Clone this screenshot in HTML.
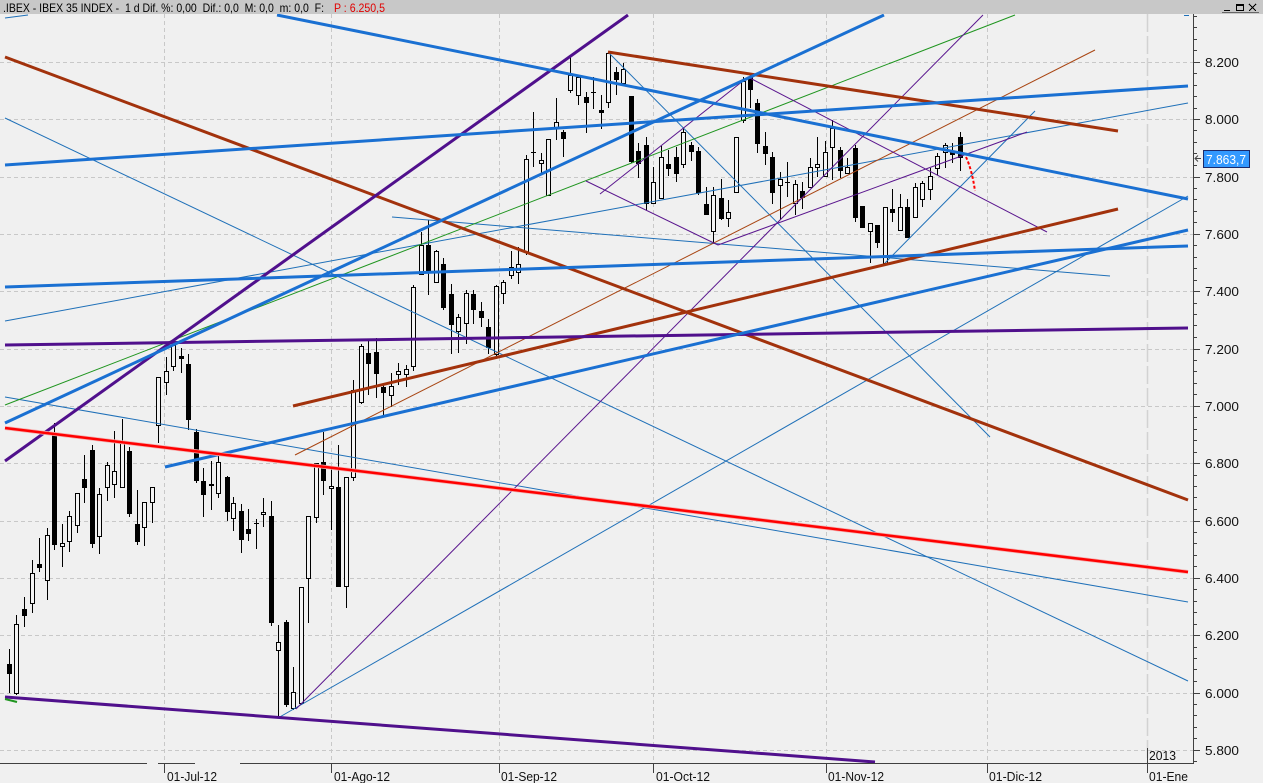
<!DOCTYPE html>
<html><head><meta charset="utf-8"><style>
html,body{margin:0;padding:0;background:#f0f0f0;}
svg{display:block;}
text{font-family:"Liberation Sans",Arial,sans-serif;}
</style></head><body>
<svg width="1263" height="783" viewBox="0 0 1263 783" xmlns="http://www.w3.org/2000/svg">
<rect x="0" y="0" width="1263" height="783" fill="#f0f0f0"/>
<!-- grid -->
<g stroke="#c8c8c8" stroke-width="1" stroke-dasharray="4 3" shape-rendering="crispEdges">
<path d="M0 62.5H1193M0 119.5H1193M0 177.5H1193M0 234.5H1193M0 291.5H1193M0 349.5H1193M0 406.5H1193M0 463.5H1193M0 521.5H1193M0 578.5H1193M0 635.5H1193M0 693.5H1193M0 750.5H1193"/>
<path d="M164.5 14V763M331.5 14V763M499.5 14V763M653.5 14V763M826.5 14V763M987.5 14V763"/>
</g>
<path d="M1147.5 14V763" stroke="#d2d2d2" stroke-width="1.5" stroke-dasharray="18 4" fill="none"/>
<!-- candles -->
<g shape-rendering="crispEdges" stroke="#000" stroke-width="1">
<path fill="none" d="M9.5 649V693M16.5 615V695M24.5 597V627M32.5 560V613M39.5 538V572M47.5 528V600M54.5 423V550M62.5 524V567M69.5 511V552M77.5 493V533M84.5 455V503M92.5 445V548M99.5 488V554M107.5 462V501M114.5 431V498M122.5 419V487M129.5 447V517M137.5 490V545M144.5 502V546M152.5 487V523M158.5 377V443M166.5 357V395M173.5 342V371M181.5 348V373M188.5 354V430M196.5 429V483M203.5 468V517M211.5 461V510M218.5 453V498M227.5 476V521M233.5 497V531M241.5 504V553M248.5 509V541M256.5 519V549M263.5 498V527M271.5 501V626M278.5 625V718M286.5 620V707M293.5 667V710M301.5 587V705M308.5 516V623M316.5 463V523M323.5 432V495M331.5 468V530M338.5 445V587M346.5 477V608M353.5 380V481M361.5 344V404M368.5 340V395M376.5 338V398M383.5 383V417M391.5 373V407M398.5 363V385M406.5 365V387M413.5 285V371M421.5 232V275M428.5 220V295M436.5 250V282M443.5 258V310M451.5 284V354M458.5 314V353M466.5 290V344M473.5 290V324M481.5 302V327M488.5 319V354M496.5 285V358M503.5 280V304M511.5 251V279M518.5 247V284M526.5 155V255M533.5 112V167M541.5 153V173M548.5 139V196M556.5 98V140M563.5 130V157M570.5 57V93M578.5 77V105M586.5 92V133M593.5 77V109M601.5 95V129M608.5 53V108M616.5 67V95M623.5 63V83M631.5 96V163M638.5 143V178M646.5 137V210M653.5 167V203M661.5 146V198M668.5 150V176M676.5 147V182M683.5 128V168M691.5 142V161M698.5 147V195M706.5 187V215M713.5 187V243M721.5 179V220M728.5 200V227M736.5 137V192M743.5 77V123M750.5 75V108M757.5 99V153M765.5 132V165M772.5 152V204M780.5 172V220M787.5 162V197M795.5 180V215M802.5 182V209M810.5 158V188M817.5 137V177M825.5 141V177M832.5 120V180M840.5 147V178M847.5 158V174M855.5 145V222M862.5 206V227M870.5 223V263M877.5 225V248M885.5 207V263M892.5 189V222M900.5 194V230M907.5 199V237M915.5 183V217M922.5 181V207M930.5 168V200M937.5 153V175M945.5 143V168M952.5 143V163M960.5 132V171"/>
<path fill="#000" d="M7.5 664.5h4v9h-4zM22.5 609.5h4v6h-4zM37.5 564.5h4v3h-4zM52.5 433.5h4v111h-4zM82.5 479.5h4v8h-4zM90.5 450.5h4v93h-4zM127.5 451.5h4v62h-4zM135.5 524.5h4v17h-4zM179.5 356.5h4v2h-4zM186.5 364.5h4v55h-4zM194.5 432.5h4v48h-4zM201.5 481.5h4v13h-4zM209.5 484.5h4v1h-4zM225.5 477.5h4v34h-4zM239.5 511.5h4v28h-4zM246.5 529.5h4v4h-4zM269.5 516.5h4v106h-4zM284.5 622.5h4v82h-4zM321.5 462.5h4v18h-4zM336.5 487.5h4v99h-4zM366.5 353.5h4v10h-4zM374.5 352.5h4v21h-4zM381.5 387.5h4v5h-4zM426.5 245.5h4v25h-4zM441.5 264.5h4v43h-4zM449.5 294.5h4v30h-4zM471.5 294.5h4v15h-4zM479.5 311.5h4v6h-4zM486.5 327.5h4v20h-4zM561.5 132.5h4v6h-4zM584.5 97.5h4v5h-4zM599.5 110.5h4v2h-4zM614.5 72.5h4v7h-4zM629.5 96.5h4v65h-4zM636.5 151.5h4v12h-4zM644.5 145.5h4v58h-4zM666.5 164.5h4v4h-4zM674.5 157.5h4v16h-4zM689.5 145.5h4v6h-4zM696.5 151.5h4v41h-4zM704.5 204.5h4v10h-4zM719.5 198.5h4v20h-4zM748.5 77.5h4v12h-4zM755.5 103.5h4v40h-4zM763.5 146.5h4v7h-4zM770.5 157.5h4v35h-4zM800.5 191.5h4v6h-4zM838.5 150.5h4v20h-4zM853.5 148.5h4v69h-4zM860.5 206.5h4v21h-4zM875.5 225.5h4v17h-4zM890.5 209.5h4v3h-4zM905.5 207.5h4v30h-4zM950.5 152.5h4v2h-4zM958.5 137.5h4v20h-4z"/>
<path fill="#f4f4f4" d="M14.5 624.5h4v69h-4zM30.5 573.5h4v30h-4zM45.5 535.5h4v45h-4zM60.5 543.5h4v3h-4zM67.5 516.5h4v25h-4zM75.5 493.5h4v32h-4zM97.5 494.5h4v42h-4zM105.5 465.5h4v22h-4zM112.5 471.5h4v13h-4zM120.5 442.5h4v45h-4zM142.5 502.5h4v25h-4zM150.5 487.5h4v15h-4zM156.5 377.5h4v48h-4zM164.5 371.5h4v11h-4zM171.5 345.5h4v21h-4zM216.5 462.5h4v31h-4zM231.5 503.5h4v15h-4zM261.5 512.5h4v2h-4zM276.5 642.5h4v8h-4zM291.5 692.5h4v16h-4zM299.5 587.5h4v116h-4zM306.5 516.5h4v62h-4zM314.5 463.5h4v54h-4zM329.5 486.5h4v2h-4zM344.5 477.5h4v109h-4zM351.5 390.5h4v87h-4zM359.5 346.5h4v56h-4zM389.5 386.5h4v9h-4zM396.5 371.5h4v3h-4zM404.5 369.5h4v5h-4zM411.5 287.5h4v79h-4zM419.5 245.5h4v29h-4zM434.5 251.5h4v31h-4zM456.5 317.5h4v14h-4zM464.5 293.5h4v30h-4zM494.5 286.5h4v68h-4zM501.5 282.5h4v11h-4zM509.5 267.5h4v8h-4zM516.5 264.5h4v8h-4zM524.5 159.5h4v93h-4zM539.5 160.5h4v3h-4zM546.5 139.5h4v56h-4zM554.5 122.5h4v5h-4zM568.5 75.5h4v15h-4zM576.5 77.5h4v18h-4zM606.5 53.5h4v49h-4zM621.5 69.5h4v14h-4zM651.5 182.5h4v21h-4zM659.5 157.5h4v41h-4zM681.5 132.5h4v32h-4zM711.5 195.5h4v36h-4zM726.5 212.5h4v6h-4zM734.5 137.5h4v55h-4zM741.5 81.5h4v39h-4zM778.5 179.5h4v6h-4zM793.5 184.5h4v19h-4zM808.5 167.5h4v20h-4zM815.5 164.5h4v3h-4zM823.5 152.5h4v24h-4zM830.5 128.5h4v19h-4zM845.5 167.5h4v6h-4zM868.5 223.5h4v8h-4zM883.5 207.5h4v56h-4zM898.5 207.5h4v23h-4zM913.5 187.5h4v30h-4zM920.5 183.5h4v16h-4zM928.5 176.5h4v13h-4zM935.5 156.5h4v12h-4zM943.5 145.5h4v7h-4z"/>
<path fill="none" d="M254 523.5h5M531 152.5h5M591 92.5h5M785 182.5h5"/>
</g>
<!-- trend lines -->
<svg x="0" y="14" width="1193" height="749" viewBox="0 14 1193 749" overflow="hidden">
<g fill="none" stroke-linecap="butt">
<g stroke="#1f70b8" stroke-width="1">
<path d="M5 118L1188 681"/>
<path d="M608 52L990 437"/>
<path d="M5 397L1188 602"/>
<path d="M5 321L1188 103"/>
<path d="M278 718L1188 196"/>
<path d="M885 263L1035 111"/>
<path d="M392 217L1110 276"/>
<path d="M5 18L28 15"/>
<path d="M1184 15.5L1189 15.5"/>
</g>
<path d="M5 405L1015 15" stroke="#1f951f" stroke-width="1"/>
<path d="M295 455L1095 50" stroke="#a84512" stroke-width="1"/>
<g stroke="#5a168e" stroke-width="1">
<path d="M296 709L983 15"/>
<path d="M586 181L718 245"/>
<path d="M600 194L748 77"/>
<path d="M748 77L1047 232"/>
<path d="M718 245L1027 132"/>
</g>
<g stroke-width="3">
<path d="M5 57L1188 500" stroke="#a2320c"/>
<path d="M608 52L1118 131" stroke="#a2320c"/>
<path d="M293 406L1118 209" stroke="#a2320c"/>
<path d="M5 461L628 15" stroke="#50108c"/>
<path d="M5 345L1188 328" stroke="#50108c"/>
<path d="M5 697L875 762" stroke="#50108c"/>
<path d="M277 15L1188 199" stroke="#1a70d2"/>
<path d="M5 165L1188 86" stroke="#1a70d2"/>
<path d="M5 423L884 15" stroke="#1a70d2"/>
<path d="M165 467L1188 230" stroke="#1a70d2"/>
<path d="M5 287L1188 246" stroke="#1a70d2"/>
<path d="M5 428L1188 572" stroke="#f4b0b0" stroke-width="4"/>
<path d="M5 428L1188 572" stroke="#ff0000" stroke-width="2.5"/>
</g>
<path d="M966 157Q972 170 975 191" stroke="#ff0000" stroke-width="2" stroke-dasharray="3 2"/>
<path d="M5 699L17 702" stroke="#1f951f" stroke-width="2"/>
</g>
</svg>
<!-- title bar -->
<rect x="0" y="0" width="1263" height="14" fill="#c8c8c8"/>
<text x="3" y="12" font-size="12" fill="#000" textLength="321" lengthAdjust="spacingAndGlyphs" xml:space="preserve">.IBEX - IBEX 35 INDEX -  1 d Dif. %: 0,00  Dif.: 0,0  M: 0,0  m: 0,0  F:</text>
<text x="334" y="12" font-size="12" fill="#e00000" textLength="51" lengthAdjust="spacingAndGlyphs">P : 6.250,5</text>
<g stroke="#000" stroke-width="1" fill="none" shape-rendering="crispEdges">
<path d="M1224 10.5H1230"/>
<rect x="1236.5" y="4.5" width="7" height="6"/>
<path d="M1236 5.5H1244"/>
<path d="M1249 4L1256 11M1256 4L1249 11"/>
<path d="M1222 12.5H1259" stroke="#666"/>
</g>
<!-- axes -->
<g stroke="#404040" stroke-width="1" fill="none" shape-rendering="crispEdges">
<path d="M1193.5 14V764"/>
<path d="M0 763.5H147M158 763.5H195M240 763.5H1194"/>
<path d="M164.5 763V773M331.5 763V773M499.5 763V773M653.5 763V773M826.5 763V773M987.5 763V773M1147.5 748V773"/>
<path d="M1193 16.5h4M1193 27.5h4M1193 39.5h4M1193 50.5h4M1193 62.5h7M1193 73.5h4M1193 85.5h4M1193 96.5h4M1193 108.5h4M1193 119.5h7M1193 130.5h4M1193 142.5h4M1193 153.5h4M1193 165.5h4M1193 177.5h7M1193 188.5h4M1193 199.5h4M1193 211.5h4M1193 222.5h4M1193 234.5h7M1193 245.5h4M1193 257.5h4M1193 268.5h4M1193 280.5h4M1193 291.5h7M1193 303.5h4M1193 314.5h4M1193 325.5h4M1193 337.5h4M1193 349.5h7M1193 360.5h4M1193 371.5h4M1193 383.5h4M1193 394.5h4M1193 406.5h7M1193 417.5h4M1193 429.5h4M1193 440.5h4M1193 452.5h4M1193 463.5h7M1193 475.5h4M1193 486.5h4M1193 497.5h4M1193 509.5h4M1193 521.5h7M1193 532.5h4M1193 543.5h4M1193 555.5h4M1193 566.5h4M1193 578.5h7M1193 589.5h4M1193 601.5h4M1193 612.5h4M1193 624.5h4M1193 635.5h7M1193 647.5h4M1193 658.5h4M1193 669.5h4M1193 681.5h4M1193 693.5h7M1193 704.5h4M1193 715.5h4M1193 727.5h4M1193 738.5h4M1193 750.5h7M1193 761.5h4"/>
</g>
<g font-size="13" fill="#111">
<text x="1205" y="67" textLength="34" lengthAdjust="spacingAndGlyphs">8.200</text>
<text x="1205" y="124" textLength="34" lengthAdjust="spacingAndGlyphs">8.000</text>
<text x="1205" y="182" textLength="34" lengthAdjust="spacingAndGlyphs">7.800</text>
<text x="1205" y="239" textLength="34" lengthAdjust="spacingAndGlyphs">7.600</text>
<text x="1205" y="296" textLength="34" lengthAdjust="spacingAndGlyphs">7.400</text>
<text x="1205" y="354" textLength="34" lengthAdjust="spacingAndGlyphs">7.200</text>
<text x="1205" y="411" textLength="34" lengthAdjust="spacingAndGlyphs">7.000</text>
<text x="1205" y="468" textLength="34" lengthAdjust="spacingAndGlyphs">6.800</text>
<text x="1205" y="526" textLength="34" lengthAdjust="spacingAndGlyphs">6.600</text>
<text x="1205" y="583" textLength="34" lengthAdjust="spacingAndGlyphs">6.400</text>
<text x="1205" y="640" textLength="34" lengthAdjust="spacingAndGlyphs">6.200</text>
<text x="1205" y="698" textLength="34" lengthAdjust="spacingAndGlyphs">6.000</text>
<text x="1205" y="755" textLength="34" lengthAdjust="spacingAndGlyphs">5.800</text>
</g>
<g font-size="13" fill="#111">
<text x="167" y="781" textLength="50" lengthAdjust="spacingAndGlyphs">01-Jul-12</text>
<text x="334" y="781" textLength="56" lengthAdjust="spacingAndGlyphs">01-Ago-12</text>
<text x="501" y="781" textLength="56" lengthAdjust="spacingAndGlyphs">01-Sep-12</text>
<text x="656" y="781" textLength="54" lengthAdjust="spacingAndGlyphs">01-Oct-12</text>
<text x="828" y="781" textLength="56" lengthAdjust="spacingAndGlyphs">01-Nov-12</text>
<text x="989" y="781" textLength="53" lengthAdjust="spacingAndGlyphs">01-Dic-12</text>
<text x="1149" y="781" textLength="39" lengthAdjust="spacingAndGlyphs">01-Ene</text>
<text x="1149" y="760" textLength="27" lengthAdjust="spacingAndGlyphs">2013</text>
</g>
<!-- price marker -->
<path d="M1201 158.5H1195M1198 155.5L1195 158.5L1198 161.5" stroke="#444" stroke-width="1" fill="none"/>
<rect x="1203.5" y="150.5" width="46" height="17" fill="#3399ff" stroke="#1c2a6a" stroke-width="1"/>
<text x="1206" y="164" font-size="13" fill="#ffffff" textLength="40" lengthAdjust="spacingAndGlyphs">7.863,7</text>
</svg>
</body></html>
